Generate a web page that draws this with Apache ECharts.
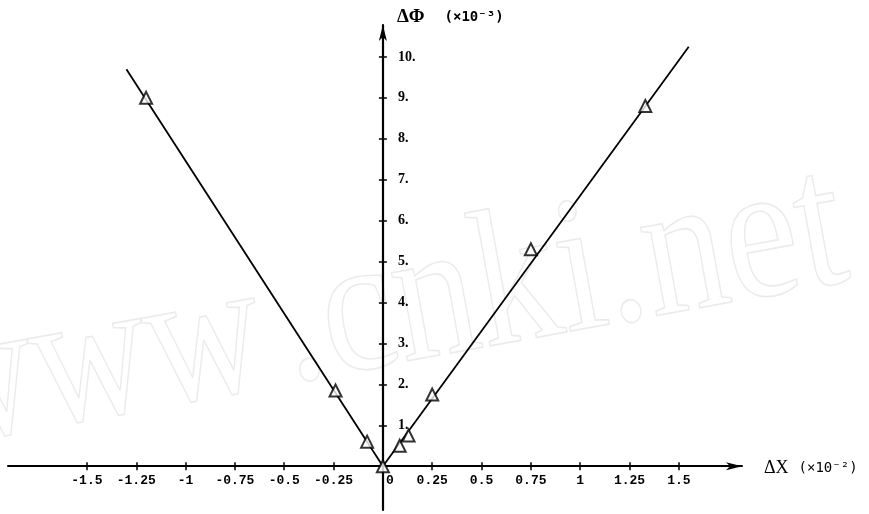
<!DOCTYPE html>
<html><head><meta charset="utf-8">
<script src="https://cdn.jsdelivr.net/npm/echarts@6/dist/echarts.min.js"></script>
<style>html,body{margin:0;padding:0;background:#fff}#c{width:869px;height:514px}</style>
</head><body><div id="c"></div>
<script>
// tick values and labels
const xTicks = [-1.5, -1.25, -1, -0.75, -0.5, -0.25, 0, 0.25, 0.5, 0.75, 1, 1.25, 1.5];
const xTickLabels = ['-1.5', '-1.25', '-1', '-0.75', '-0.5', '-0.25', '0', '0.25', '0.5', '0.75', '1', '1.25', '1.5'];
const yTicks = [1, 2, 3, 4, 5, 6, 7, 8, 9, 10];
const yTickLabels = ['1.', '2.', '3.', '4.', '5.', '6.', '7.', '8.', '9.', '10.'];

// measured points (ΔX ×10^-2, ΔΦ ×10^-3)
const pointX = [-1.2, -0.24, -0.08, 0, 0.085, 0.13, 0.25, 0.75, 1.33];
const pointY = [9.0, 1.85, 0.6, 0, 0.5, 0.75, 1.75, 5.3, 8.8];

// fitted lines
const leftLineX = [0, -1.3];
const leftLineY = [0, 9.7];
const rightLineX = [0, 1.55];
const rightLineY = [0, 10.25];

const xMin = -1.9, xMax = 1.82, yMin = -1.07, yMax = 10.78;

const W = 869, H = 514;
const G = {left: 8, right: 127, top: 25, bottom: 4};
const gw = W - G.left - G.right, gh = H - G.top - G.bottom;
// move axes from grid edges onto the zero lines
const yAxisOffset = -gw * (0 - xMin) / (xMax - xMin);
const xAxisOffset = -gh * (0 - yMin) / (yMax - yMin);

function lookup(vals, labels, v) {
  for (let i = 0; i < vals.length; i++) if (Math.abs(vals[i] - v) < 1e-9) return labels[i];
  return '';
}

// watermark placement
const rot = 0.18;
const wmBaseY = 482; // text-box bottom at x = 0
const wmY = (x) => wmBaseY - x * Math.tan(rot);

const chart = echarts.init(document.getElementById('c'), null, {renderer: 'canvas'});
const black = '#000';
const wmStyle = (t) => ({
  text: t, font: '195px "Liberation Serif"', fill: 'rgba(0,0,0,0)',
  stroke: '#ebebeb', lineWidth: 1.6, verticalAlign: 'bottom'
});
chart.setOption({
  backgroundColor: '#fff',
  animation: false,
  grid: Object.assign({containLabel: false, outerBoundsMode: 'none'}, G),
  graphic: [{
    type: 'text', x: -62, y: wmY(-62), rotation: rot, scaleX: 0.82, z: 0, silent: true,
    style: wmStyle('www')
  }, {
    type: 'text', x: 299, y: wmY(299), rotation: rot, scaleX: 0.85, z: 0, silent: true,
    style: wmStyle('.cnki.net')
  }],
  xAxis: [{
    type: 'value', min: xMin, max: xMax, position: 'bottom', offset: xAxisOffset,
    splitLine: {show: false},
    axisLine: {show: true, onZero: false, symbol: ['none', 'arrow'], symbolSize: [6, 16], lineStyle: {color: black, width: 2}},
    axisTick: {show: true, customValues: xTicks, length: 4, inside: false, lineStyle: {color: black, width: 1.5}},
    axisLabel: {
      show: true, customValues: xTicks, margin: 8,
      fontFamily: '"Liberation Mono"', fontWeight: 'bold', fontSize: 13, color: black,
      formatter: v => { const s = lookup(xTicks, xTickLabels, v); return v === 0 ? '{z|' + s + '}' : s; },
      rich: {z: {padding: [0, 0, 0, 14], fontFamily: '"Liberation Mono"', fontWeight: 'bold', fontSize: 13, color: black}}
    },
    name: '{a|ΔX}{b|(×10⁻²)}',
    nameLocation: 'end', nameGap: 22,
    nameTextStyle: {
      padding: [4, 0, 0, 0],
      rich: {
        a: {fontFamily: '"Liberation Serif"', fontSize: 18, color: black, padding: [0, 10, 0, 0]},
        b: {fontFamily: '"DejaVu Sans Mono"', fontSize: 14, color: black}
      }
    }
  }, {
    type: 'value', min: xMin, max: xMax, position: 'bottom', offset: xAxisOffset,
    splitLine: {show: false},
    axisLine: {show: false, onZero: false},
    axisTick: {show: true, customValues: xTicks, length: 4, inside: true, lineStyle: {color: black, width: 1.5}},
    axisLabel: {show: false}
  }],
  yAxis: [{
    type: 'value', min: yMin, max: yMax, position: 'left', offset: yAxisOffset,
    splitLine: {show: false},
    axisLine: {show: true, onZero: false, symbol: ['none', 'arrow'], symbolSize: [6, 16], lineStyle: {color: black, width: 2.2}},
    axisTick: {show: true, customValues: yTicks, length: 4, inside: true, lineStyle: {color: black, width: 1.5}},
    axisLabel: {
      show: true, inside: true, customValues: yTicks, margin: 15,
      fontFamily: '"Liberation Serif"', fontWeight: 'bold', fontSize: 14, color: black,
      formatter: v => lookup(yTicks, yTickLabels, v)
    },
    name: '{a|ΔΦ}{b|(×10⁻³)}',
    nameLocation: 'end', nameGap: -2,
    nameTextStyle: {
      align: 'left', verticalAlign: 'bottom', padding: [0, 0, 0, 14],
      rich: {
        a: {fontFamily: '"Liberation Serif"', fontWeight: 'bold', fontSize: 19, color: black, padding: [0, 20, 0, 0]},
        b: {fontFamily: '"DejaVu Sans Mono"', fontWeight: 'bold', fontSize: 14, color: black}
      }
    }
  }, {
    type: 'value', min: yMin, max: yMax, position: 'left', offset: yAxisOffset,
    splitLine: {show: false},
    axisLine: {show: false, onZero: false},
    axisTick: {show: true, customValues: yTicks, length: 4, inside: false, lineStyle: {color: black, width: 1.5}},
    axisLabel: {show: false}
  }],
  series: [{
    type: 'line', showSymbol: false, symbol: 'none', z: 3,
    lineStyle: {color: black, width: 1.8},
    data: leftLineX.map((x, i) => [x, leftLineY[i]])
  }, {
    type: 'line', showSymbol: false, symbol: 'none', z: 3,
    lineStyle: {color: black, width: 1.8},
    data: rightLineX.map((x, i) => [x, rightLineY[i]])
  }, {
    type: 'scatter', z: 4,
    symbol: 'triangle', symbolSize: 12,
    itemStyle: {color: '#fff', borderColor: black, borderWidth: 2},
    data: pointX.map((x, i) => [x, pointY[i]])
  }]
});
</script>
</body></html>
